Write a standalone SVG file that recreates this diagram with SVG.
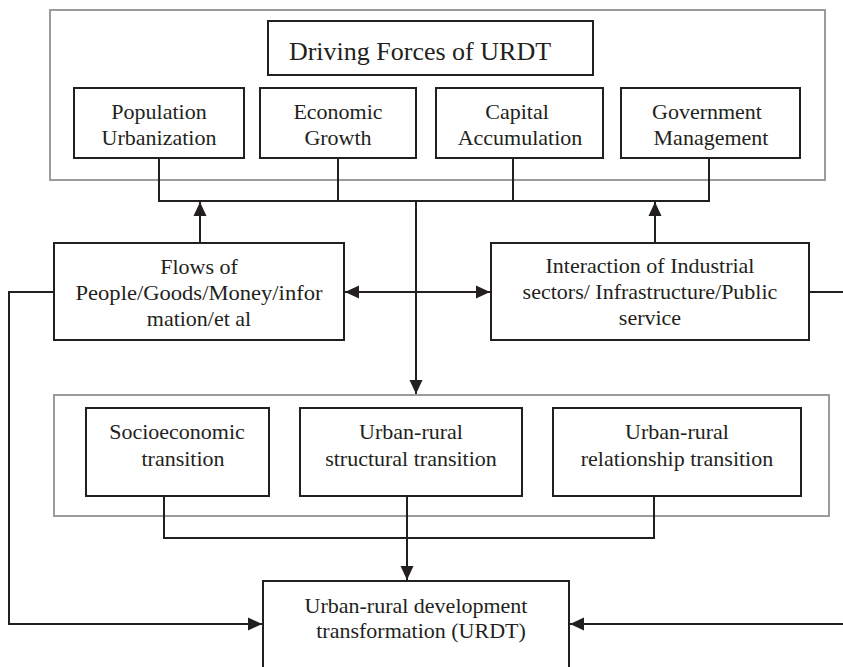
<svg xmlns="http://www.w3.org/2000/svg" width="843" height="667" viewBox="0 0 843 667">
  <style>
    .frame { fill: none; stroke: #9b9b9b; stroke-width: 2; }
    .box { fill: #ffffff; stroke: #231f20; stroke-width: 2; }
    .lbl { font-family: "Liberation Serif", "Times New Roman", serif; font-size: 22px; fill: #231f20; text-anchor: middle; }
    .title { font-size: 26px; }
    .wire { fill: none; stroke: #231f20; stroke-width: 2; }
  </style>
  <defs>
    <marker id="arrow" markerUnits="userSpaceOnUse" markerWidth="16" markerHeight="14" refX="15" refY="7" orient="auto-start-reverse">
      <path d="M1,0.5 L15,7 L1,13.5 Z" fill="#231f20"/>
    </marker>
  </defs>

  <rect width="843" height="667" fill="#ffffff"/>

  <!-- grouping frames -->
  <rect id="drivers-frame" class="frame" x="50" y="10" width="775" height="170"/>
  <rect id="transition-frame" class="frame" x="54" y="395" width="775" height="121"/>

  <!-- connectors -->
  <g id="connectors">
    <!-- bus joining the four driving forces -->
    <path class="wire" d="M159,158 V201 H709 V158 M338,158 V201 M513,158 V201"/>
    <!-- drivers down to transitions -->
    <path class="wire" d="M416,201 V394" marker-end="url(#arrow)"/>
    <!-- flows / interaction up to the drivers -->
    <path class="wire" d="M200,243 V202" marker-end="url(#arrow)"/>
    <path class="wire" d="M655,243 V202" marker-end="url(#arrow)"/>
    <!-- two-way link between flows and interaction -->
    <path class="wire" d="M345,292 H490" marker-start="url(#arrow)" marker-end="url(#arrow)"/>
    <!-- side loops to URDT -->
    <path class="wire" d="M54,292 H9 V624 H262" marker-end="url(#arrow)"/>
    <path class="wire" d="M809,292 H845 V624 H570" marker-end="url(#arrow)"/>
    <!-- transitions bus to URDT -->
    <path class="wire" d="M164,496 V538 H654 V496"/>
    <path class="wire" d="M407,496 V580" marker-end="url(#arrow)"/>
  </g>

  <g id="driving-forces">
    <rect class="box" x="268" y="21" width="325" height="54"/>
    <text class="lbl title" x="420" y="60">Driving Forces of URDT</text>
  </g>
  <g id="population-urbanization">
    <rect class="box" x="74" y="88" width="170" height="70"/>
    <text class="lbl" x="159" y="119">Population</text>
    <text class="lbl" x="159" y="145">Urbanization</text>
  </g>
  <g id="economic-growth">
    <rect class="box" x="260" y="88" width="156" height="70"/>
    <text class="lbl" x="338" y="119">Economic</text>
    <text class="lbl" x="338" y="145">Growth</text>
  </g>
  <g id="capital-accumulation">
    <rect class="box" x="436" y="88" width="167" height="70"/>
    <text class="lbl" x="517" y="119">Capital</text>
    <text class="lbl" x="520" y="145">Accumulation</text>
  </g>
  <g id="government-management">
    <rect class="box" x="621" y="88" width="179" height="70"/>
    <text class="lbl" x="707" y="119">Government</text>
    <text class="lbl" x="711" y="145">Management</text>
  </g>

  <g id="flows">
    <rect class="box" x="54" y="243" width="290" height="97"/>
    <text class="lbl" x="199" y="274">Flows of</text>
    <text class="lbl" x="199" y="300" textLength="247" lengthAdjust="spacingAndGlyphs">People/Goods/Money/infor</text>
    <text class="lbl" x="199" y="326">mation/et al</text>
  </g>
  <g id="interaction">
    <rect class="box" x="491" y="243" width="318" height="97"/>
    <text class="lbl" x="650" y="273">Interaction of Industrial</text>
    <text class="lbl" x="650" y="299">sectors/ Infrastructure/Public</text>
    <text class="lbl" x="650" y="325">service</text>
  </g>

  <g id="socioeconomic-transition">
    <rect class="box" x="86" y="408" width="183" height="88"/>
    <text class="lbl" x="177" y="439">Socioeconomic</text>
    <text class="lbl" x="183" y="466">transition</text>
  </g>
  <g id="structural-transition">
    <rect class="box" x="300" y="408" width="222" height="88"/>
    <text class="lbl" x="411" y="439">Urban-rural</text>
    <text class="lbl" x="411" y="466">structural transition</text>
  </g>
  <g id="relationship-transition">
    <rect class="box" x="553" y="408" width="248" height="88"/>
    <text class="lbl" x="677" y="439">Urban-rural</text>
    <text class="lbl" x="677" y="466">relationship transition</text>
  </g>

  <g id="urdt">
    <rect class="box" x="263" y="581" width="306" height="100"/>
    <text class="lbl" x="416" y="613">Urban-rural development</text>
    <text class="lbl" x="421" y="638">transformation (URDT)</text>
  </g>
</svg>
